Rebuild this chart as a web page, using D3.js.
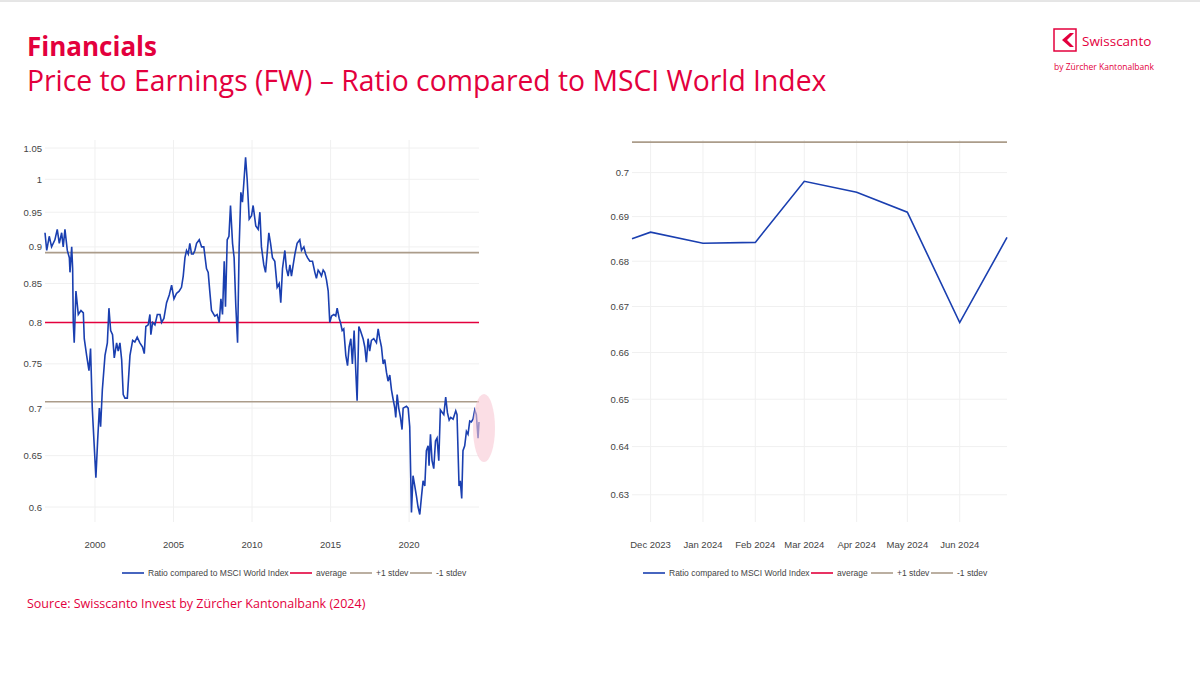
<!DOCTYPE html>
<html><head><meta charset="utf-8">
<script src="https://cdn.jsdelivr.net/npm/d3@7"></script>
<style>body{margin:0;background:#fff;font-family:"Open Sans",Arial,sans-serif}</style>
</head><body><svg id="c" width="1200" height="675"></svg>
<script>
const years=[1996.82,1996.93,1997.09,1997.24,1997.45,1997.60,1997.73,1997.88,1997.98,1998.09,1998.24,1998.37,1998.41,1998.52,1998.58,1998.62,1998.68,1998.79,1998.94,1999.11,1999.26,1999.32,1999.47,1999.62,1999.72,1999.83,1999.89,2000.06,2000.17,2000.28,2000.36,2000.47,2000.64,2000.79,2000.89,2001.00,2001.12,2001.23,2001.38,2001.48,2001.59,2001.70,2001.80,2001.91,2002.06,2002.23,2002.40,2002.54,2002.69,2002.86,2003.03,2003.14,2003.24,2003.39,2003.50,2003.56,2003.67,2003.82,2003.97,2004.14,2004.24,2004.39,2004.56,2004.73,2004.88,2005.03,2005.19,2005.36,2005.51,2005.62,2005.73,2005.83,2005.94,2006.04,2006.15,2006.26,2006.36,2006.47,2006.64,2006.79,2006.93,2007.10,2007.21,2007.31,2007.42,2007.63,2007.78,2007.91,2008.02,2008.12,2008.23,2008.31,2008.42,2008.53,2008.63,2008.76,2008.86,2008.97,2009.08,2009.18,2009.29,2009.39,2009.48,2009.59,2009.69,2009.82,2009.97,2010.07,2010.24,2010.39,2010.50,2010.60,2010.75,2010.86,2010.96,2011.07,2011.18,2011.30,2011.45,2011.60,2011.73,2011.83,2011.94,2012.09,2012.19,2012.30,2012.41,2012.51,2012.62,2012.73,2012.87,2013.04,2013.15,2013.30,2013.42,2013.53,2013.68,2013.85,2014.00,2014.10,2014.21,2014.31,2014.42,2014.53,2014.63,2014.74,2014.85,2014.95,2015.06,2015.21,2015.33,2015.42,2015.55,2015.63,2015.74,2015.84,2015.97,2016.08,2016.18,2016.29,2016.39,2016.50,2016.61,2016.69,2016.80,2016.90,2017.07,2017.18,2017.28,2017.39,2017.49,2017.60,2017.75,2017.92,2018.03,2018.13,2018.24,2018.35,2018.45,2018.56,2018.66,2018.77,2018.88,2018.98,2019.09,2019.15,2019.24,2019.34,2019.45,2019.55,2019.62,2019.83,2019.94,2020.04,2020.15,2020.25,2020.36,2020.47,2020.57,2020.68,2020.79,2020.89,2021.00,2021.10,2021.21,2021.27,2021.36,2021.46,2021.57,2021.68,2021.78,2021.89,2021.99,2022.12,2022.21,2022.33,2022.44,2022.55,2022.65,2022.80,2022.97,2023.05,2023.18,2023.26,2023.35,2023.43,2023.54,2023.65,2023.75,2023.86,2023.96,2024.07,2024.18,2024.28,2024.39,2024.45];
const ratios=[0.92,0.895,0.915,0.9,0.91,0.925,0.905,0.92,0.9,0.925,0.895,0.885,0.865,0.9,0.87,0.8,0.775,0.84,0.81,0.815,0.812,0.78,0.76,0.742,0.768,0.7,0.68,0.628,0.665,0.7,0.68,0.72,0.76,0.775,0.818,0.79,0.785,0.757,0.775,0.765,0.775,0.755,0.715,0.711,0.711,0.76,0.778,0.776,0.782,0.775,0.77,0.762,0.795,0.797,0.81,0.785,0.8,0.797,0.81,0.81,0.8,0.805,0.825,0.835,0.848,0.83,0.837,0.84,0.845,0.86,0.885,0.895,0.89,0.905,0.89,0.89,0.895,0.905,0.91,0.9,0.9,0.87,0.865,0.84,0.815,0.808,0.81,0.8,0.83,0.81,0.88,0.82,0.91,0.915,0.96,0.905,0.885,0.82,0.775,0.9,0.98,0.965,0.995,1.035,1.0,0.94,0.945,0.96,0.93,0.925,0.95,0.9,0.875,0.865,0.89,0.92,0.905,0.885,0.88,0.845,0.85,0.825,0.87,0.895,0.87,0.86,0.875,0.86,0.875,0.89,0.905,0.91,0.895,0.9,0.89,0.885,0.88,0.88,0.865,0.857,0.868,0.865,0.86,0.868,0.865,0.855,0.84,0.8,0.808,0.81,0.808,0.818,0.805,0.8,0.79,0.792,0.76,0.748,0.77,0.78,0.75,0.79,0.74,0.708,0.795,0.79,0.78,0.77,0.752,0.78,0.765,0.778,0.78,0.775,0.792,0.78,0.77,0.75,0.755,0.74,0.73,0.737,0.72,0.71,0.7,0.69,0.715,0.7,0.69,0.677,0.7,0.702,0.7,0.68,0.595,0.63,0.62,0.61,0.6,0.593,0.61,0.625,0.62,0.655,0.66,0.64,0.672,0.645,0.637,0.665,0.668,0.645,0.698,0.695,0.693,0.712,0.695,0.687,0.69,0.688,0.697,0.693,0.62,0.625,0.608,0.655,0.66,0.675,0.672,0.686,0.685,0.688,0.698,0.693,0.668,0.685];
const recentDates=["2023-11-20","2023-12-01","2024-01-01","2024-02-01","2024-03-01","2024-04-01","2024-05-01","2024-06-01","2024-06-29"];
const recentRatios=[0.685,0.6865,0.684,0.6842,0.698,0.6955,0.691,0.6665,0.6853];
const average=0.8, plusStdev=0.892, minusStdev=0.707;
const leftTicks=[0.6,0.65,0.7,0.75,0.8,0.85,0.9,0.95,1,1.05];
const leftYearTicks=[2000,2005,2010,2015,2020];
const rightTicks=[0.63,0.64,0.65,0.66,0.67,0.68,0.69,0.7];
const legendLabels=["Ratio compared to MSCI World Index","average","+1 stdev","-1 stdev"];

const RED="#e3003d", BLUE="#1a3fb0", BROWN="#ab9c8a";
const SMALL='"Liberation Sans",Arial,sans-serif';
const svg=d3.select("#c");
svg.append("line").attr("x1",0).attr("x2",1200).attr("y1",1).attr("y2",1).attr("stroke","#ccc");
svg.append("text").attr("x",27).attr("y",56).attr("fill",RED).attr("font-size",26).attr("font-weight","bold").text("Financials");
svg.append("text").attr("x",27).attr("y",91).attr("fill",RED).attr("font-size",28.3).text("Price to Earnings (FW) – Ratio compared to MSCI World Index");
svg.append("text").attr("x",27).attr("y",608).attr("fill",RED).attr("font-size",12.5).text("Source: Swisscanto Invest by Zürcher Kantonalbank (2024)");
// logo
svg.append("rect").attr("x",1054).attr("y",29).attr("width",22).attr("height",22).attr("fill","none").attr("stroke",RED).attr("stroke-width",1.5);
svg.append("path").attr("d","M1070,33 L1062,40 L1070,47 L1074,47 L1067,40 L1074,33Z").attr("fill",RED);
svg.append("text").attr("x",1082).attr("y",46).attr("fill",RED).attr("font-size",13.5).text("Swisscanto");
svg.append("text").attr("x",1054).attr("y",70).attr("fill",RED).attr("font-size",8.5).text("by Zürcher Kantonalbank");

function drawPanel(o){
  const g=svg.append("g").attr("font-family",SMALL);
  g.selectAll(".gy").data(o.yTicks).join("line").attr("x1",o.x0).attr("x2",o.x1)
    .attr("y1",d=>o.y(d)).attr("y2",d=>o.y(d)).attr("stroke","#f0f0f0");
  g.selectAll(".gx").data(o.xTicks).join("line").attr("x1",d=>o.x(d)).attr("x2",d=>o.x(d))
    .attr("y1",o.yTop).attr("y2",o.yBot).attr("stroke","#f0f0f0");
  g.selectAll(".ty").data(o.yTicks).join("text").attr("x",o.x0-3).attr("y",d=>o.y(d)+3.5)
    .attr("text-anchor","end").attr("font-size",9.5).attr("fill","#444").text(o.yFmt);
  g.selectAll(".tx").data(o.xTicks).join("text").attr("x",d=>o.x(d)).attr("y",o.yBot+26)
    .attr("text-anchor","middle").attr("font-size",9.5).attr("fill","#444").text(o.xFmt);
  [[plusStdev,BROWN],[minusStdev,BROWN],[average,RED]].forEach(([v,c])=>{
    const yy=o.y(v); if(yy<o.yTop-5) return;
    g.append("line").attr("x1",o.x0).attr("x2",o.x1).attr("y1",yy).attr("y2",yy).attr("stroke",c).attr("stroke-width",1.6);
  });
  g.append("path").datum(o.data).attr("fill","none").attr("stroke",BLUE).attr("stroke-width",1.6)
    .attr("d",d3.line().x(d=>o.x(d[0])).y(d=>o.y(d[1])));
  const lg=g.append("g").attr("transform",`translate(${o.lx},${o.yBot+51})`);
  const offs=[0,168,228,288], cols=[BLUE,RED,BROWN,BROWN];
  legendLabels.forEach((t,i)=>{
    lg.append("line").attr("x1",offs[i]).attr("x2",offs[i]+22).attr("y1",0).attr("y2",0).attr("stroke",cols[i]).attr("stroke-width",1.6);
    lg.append("text").attr("x",offs[i]+26).attr("y",3).attr("font-size",8.5).attr("fill","#444").text(t);
  });
}
const xL=d3.scaleLinear().domain([1996.82,2024.45]).range([45,479]);
const yL=d3.scaleLog().domain([0.6,1.05]).range([507,148]);
drawPanel({x:xL,y:yL,x0:45,x1:479,yTop:140,yBot:522,yTicks:leftTicks,xTicks:leftYearTicks,
  yFmt:d=>d3.format("")(d),xFmt:d=>d,data:years.map((y,i)=>[y,ratios[i]]),lx:122});
svg.append("ellipse").attr("cx",484).attr("cy",428).attr("rx",11).attr("ry",34).attr("fill","#f8c8d4").attr("opacity",0.6);

const parse=d3.timeParse("%Y-%m-%d");
const rd=recentDates.map(parse);
const xR=d3.scaleTime().domain([rd[0],rd[rd.length-1]]).range([632,1007]);
const yR=d3.scaleLog().domain([0.6238,0.7075]).range([525,140]);
const monthTicks=d3.timeMonth.range(parse("2023-12-01"),parse("2024-06-02"));
drawPanel({x:xR,y:yR,x0:632,x1:1007,yTop:140,yBot:522,yTicks:rightTicks,xTicks:monthTicks,
  yFmt:d=>d3.format("")(d),xFmt:d3.timeFormat("%b %Y"),data:rd.map((d,i)=>[d,recentRatios[i]]),lx:643});
</script></body></html>
